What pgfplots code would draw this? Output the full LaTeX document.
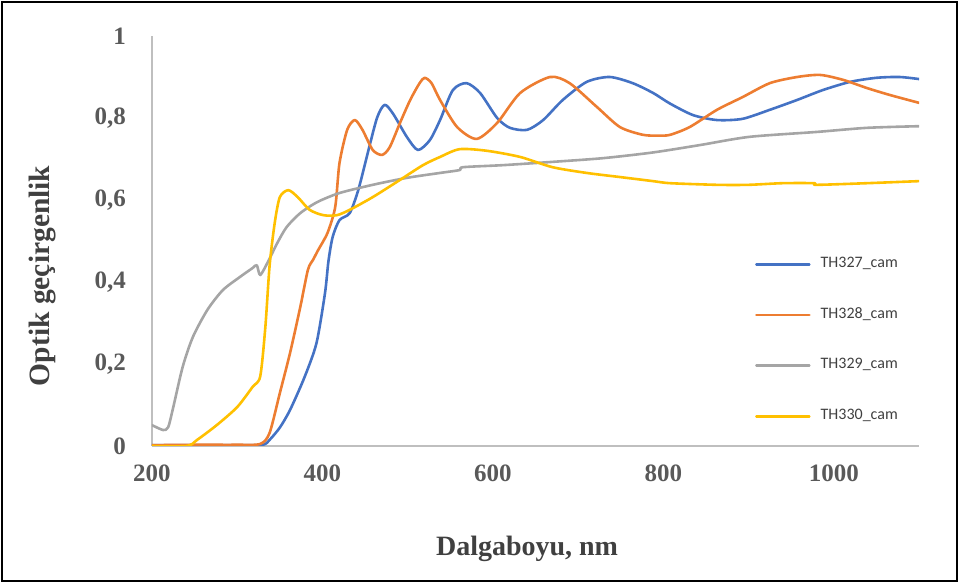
\documentclass[border=0pt]{standalone}
\usepackage{pgfplots}
\pgfplotsset{compat=1.18}
\usepackage{fontspec}
\setmainfont{Liberation Serif}
\newfontfamily\legfont{Carlito}
\definecolor{cblue}{HTML}{4472C4}
\definecolor{corange}{HTML}{ED7D31}
\definecolor{cgray}{HTML}{A5A5A5}
\definecolor{cyellow}{HTML}{FFC000}
\definecolor{tickc}{HTML}{595959}
\definecolor{labc}{HTML}{404040}
\definecolor{axc}{HTML}{BFBFBF}
\begin{document}
\begin{tikzpicture}[x=1pt,y=1pt]
\useasboundingbox (-152,-139) rectangle (808,446);
\draw[black,line width=1.6pt] (-150,-135) rectangle (805,444);
\begin{axis}[
  at={(0,0)}, anchor=south west,
  scale only axis, width=767pt, height=410pt,
  xmin=200, xmax=1100, ymin=0, ymax=1,
  axis lines*=left,
  axis line style={axc, line width=1.6pt},
  x axis line style={-}, y axis line style={-},
  xtick={200,400,600,800,1000},
  ytick={0,0.2,0.4,0.6,0.8,1},
  major tick length=0pt,
  /pgf/number format/assume math mode=true,
  /pgf/number format/use comma,
  /pgf/number format/1000 sep={},
  ticklabel style={font=\fontsize{25}{28}\selectfont\bfseries, text=tickc},
  xticklabel style={inner sep=0pt, anchor=north, yshift=-19pt},
  yticklabel style={inner sep=0pt, anchor=east, xshift=-26pt},
  xlabel={Dalgaboyu, nm},
  ylabel={Optik geçirgenlik},
  label style={text=labc},
  xlabel style={font=\fontsize{28}{30}\selectfont\bfseries, at={(axis description cs:0.489,-0.268)}, anchor=base},
  ylabel style={font=\fontsize{29.5}{31}\selectfont\bfseries, at={(axis description cs:-0.133,0.415)}, anchor=base},
  legend style={at={(0.786,0.463)}, anchor=north west, draw=none, fill=none,
    inner sep=0pt, font=\legfont\fontsize{16}{18}\selectfont,
    text=labc, row sep=34.7pt,
    nodes={inner sep=0pt, text height=11pt, text depth=5pt},
    /tikz/every odd column/.append style={column sep=10pt}},
  legend cell align=left,
  legend image code/.code={\draw[#1] (0pt,0pt) -- (53pt,0pt);},
  every axis plot/.append style={line width=2.6pt, line join=round, line cap=round, smooth, tension=0.45},
]
\addplot[cblue] coordinates {
(200,0.002)(250,0.002)(300,0.002)(330,0.003)(338,0.015)(350,0.045)(362,0.088)
(379,0.168)(393,0.251)(403,0.373)(407,0.45)(412,0.51)(420,0.551)(432,0.568)
(442,0.624)(452,0.705)(464,0.80)(473,0.832)(483,0.81)(499,0.754)(512,0.722)
(526,0.746)(538,0.795)(553,0.868)(569,0.885)(585,0.861)(605,0.80)(620,0.776)
(640,0.771)(659,0.795)(682,0.844)(710,0.888)(737,0.90)(764,0.885)(788,0.861)
(808,0.835)(835,0.807)(863,0.795)(893,0.798)(925,0.82)(957,0.844)(987,0.868)
(1019,0.888)(1050,0.898)(1077,0.90)(1100,0.895)};
\addlegendentry{TH327\_cam}
\addplot[corange] coordinates {
(200,0.002)(250,0.003)(300,0.003)(327,0.005)(338,0.032)(350,0.129)(362,0.227)
(374,0.339)(383,0.43)(389,0.454)(395,0.478)(406,0.52)(415,0.583)(420,0.69)
(429,0.771)(438,0.795)(447,0.771)(459,0.722)(470,0.71)(479,0.729)(491,0.788)
(503,0.844)(514,0.885)(520,0.898)(528,0.885)(538,0.844)(558,0.778)(581,0.749)
(605,0.788)(632,0.861)(667,0.90)(690,0.885)(722,0.827)(749,0.778)(776,0.759)
(795,0.757)(808,0.759)(831,0.778)(863,0.82)(893,0.851)(925,0.885)(957,0.90)
(984,0.905)(1011,0.893)(1039,0.873)(1066,0.856)(1100,0.837)};
\addlegendentry{TH328\_cam}
\addplot[cgray] coordinates {
(200,0.051)(213,0.039)(219,0.046)(225,0.095)(236,0.193)(248,0.266)(265,0.332)
(283,0.380)(303,0.412)(318,0.434)(323,0.441)(327,0.417)(336,0.449)(347,0.495)
(358,0.534)(374,0.568)(394,0.595)(420,0.617)(459,0.637)(499,0.654)(538,0.666)
(561,0.673)(565,0.68)(612,0.685)(670,0.693)(729,0.702)(788,0.716)(843,0.734)
(901,0.754)(980,0.766)(1039,0.776)(1100,0.780)};
\addlegendentry{TH329\_cam}
\addplot[cyellow] coordinates {
(200,0.0)(241,0.0)(253,0.015)(276,0.051)(300,0.095)(318,0.144)(327,0.17)
(333,0.29)(338,0.44)(344,0.544)(350,0.607)(360,0.624)(371,0.607)(385,0.576)
(401,0.563)(417,0.563)(432,0.576)(459,0.607)(491,0.649)(518,0.685)(538,0.705)
(561,0.724)(593,0.72)(632,0.705)(670,0.68)(710,0.666)(749,0.656)(788,0.646)
(808,0.641)(863,0.637)(900,0.637)(940,0.641)(977,0.641)(980,0.637)(1039,0.641)
(1100,0.646)};
\addlegendentry{TH330\_cam}
\end{axis}
\end{tikzpicture}
\end{document}
